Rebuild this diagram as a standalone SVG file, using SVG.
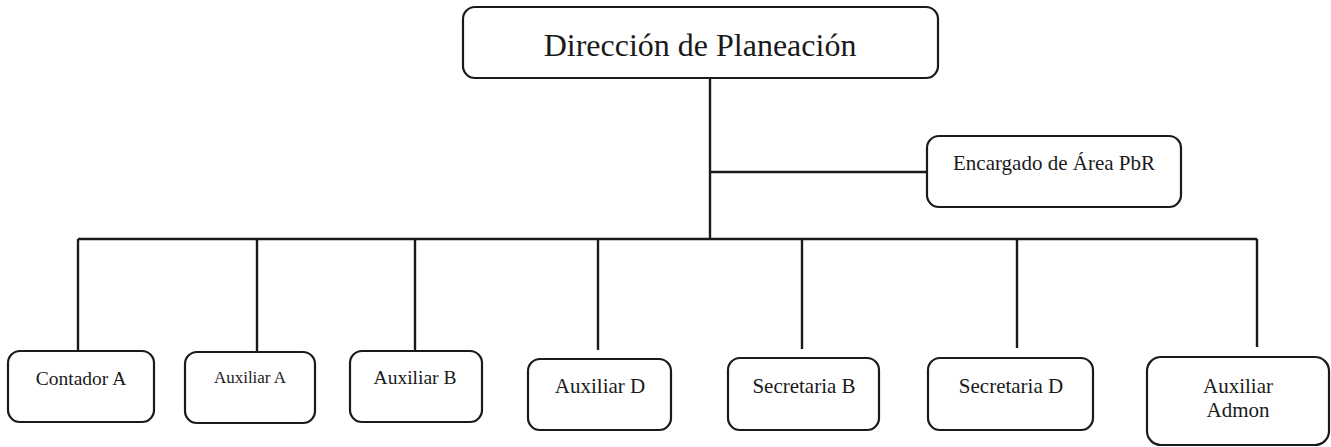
<svg xmlns="http://www.w3.org/2000/svg" width="1331" height="447" viewBox="0 0 1331 447">
<style>
.box{fill:#fff;stroke:#1a1a1a;stroke-width:2.2}
.ln{stroke:#1a1a1a;stroke-width:2.4;fill:none}
text{font-family:"Liberation Serif","Times New Roman",serif;fill:#1a1a1a;text-anchor:middle}
</style>
<rect width="1331" height="447" fill="#fff"/>
<g id="connectors">
<line class="ln" x1="710" y1="78" x2="710" y2="239"/>
<line class="ln" x1="710" y1="172" x2="927" y2="172"/>
<line class="ln" x1="78" y1="239" x2="1257" y2="239"/>
<line class="ln" x1="78" y1="239" x2="78" y2="351"/>
<line class="ln" x1="257" y1="239" x2="257" y2="352"/>
<line class="ln" x1="415" y1="239" x2="415" y2="351"/>
<line class="ln" x1="598" y1="239" x2="598" y2="350"/>
<line class="ln" x1="802" y1="239" x2="802" y2="349"/>
<line class="ln" x1="1017" y1="239" x2="1017" y2="348"/>
<line class="ln" x1="1257" y1="239" x2="1257" y2="347"/>
</g>
<g id="direccion">
<rect class="box" x="463" y="7" width="475" height="71" rx="12"/>
<text x="700" y="56" font-size="32">Dirección de Planeación</text>
</g>
<g id="encargado">
<rect class="box" x="927" y="136" width="254" height="71" rx="12"/>
<text x="1054" y="170" font-size="21">Encargado de Área PbR</text>
</g>
<g id="contador-a">
<rect class="box" x="8" y="351" width="146" height="71" rx="12"/>
<text x="81" y="385" font-size="19.5">Contador A</text>
</g>
<g id="auxiliar-a">
<rect class="box" x="185" y="352" width="130" height="71" rx="12"/>
<text x="250" y="383" font-size="17">Auxiliar A</text>
</g>
<g id="auxiliar-b">
<rect class="box" x="350" y="351" width="132" height="71" rx="12"/>
<text x="415" y="384" font-size="19.5">Auxiliar B</text>
</g>
<g id="auxiliar-d">
<rect class="box" x="528" y="359" width="143" height="71" rx="12"/>
<text x="600" y="393" font-size="21">Auxiliar D</text>
</g>
<g id="secretaria-b">
<rect class="box" x="728" y="358" width="151" height="72" rx="12"/>
<text x="804" y="393" font-size="21">Secretaria B</text>
</g>
<g id="secretaria-d">
<rect class="box" x="928" y="358" width="165" height="72" rx="12"/>
<text x="1011" y="393" font-size="21">Secretaria D</text>
</g>
<g id="auxiliar-admon">
<rect class="box" x="1147" y="357" width="182" height="88" rx="14"/>
<text x="1238" y="393" font-size="21">Auxiliar</text>
<text x="1238" y="417" font-size="21">Admon</text>
</g>
</svg>
